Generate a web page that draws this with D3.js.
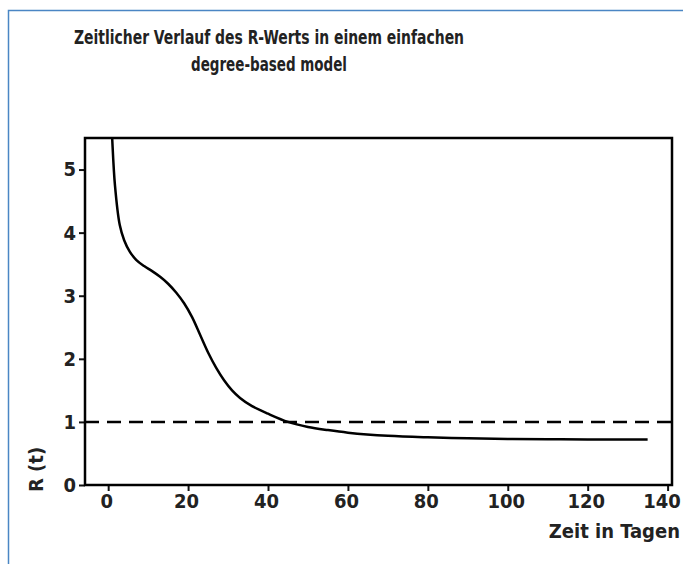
<!DOCTYPE html>
<html>
<head>
<meta charset="utf-8">
<script src="https://cdn.jsdelivr.net/npm/d3@7"></script>
<style>
  body { margin: 0; background: #fff; }
  text { font-family: "DejaVu Sans", sans-serif; font-stretch: condensed; font-weight: bold; fill: #222; }
</style>
</head>
<body>
<svg width="683" height="564"></svg>
<script>
// data
const days = [0.6, 1, 1.7, 2.9, 4, 5.4, 7, 9, 11, 13, 15, 17, 19, 21, 23, 25, 27, 29, 31, 33, 36, 40, 45, 50, 55, 60, 70, 80, 90, 100, 110, 120, 135];
const rValues = [6.1, 5.5, 4.75, 4.12, 3.88, 3.70, 3.57, 3.47, 3.39, 3.30, 3.19, 3.05, 2.88, 2.66, 2.38, 2.10, 1.86, 1.66, 1.50, 1.38, 1.25, 1.13, 1.00, 0.92, 0.87, 0.83, 0.78, 0.755, 0.74, 0.73, 0.725, 0.72, 0.72];
const xTicks = [0, 20, 40, 60, 80, 100, 120, 140];
const yTicks = [0, 1, 2, 3, 4, 5];
const threshold = 1;
const titleLines = ['Zeitlicher Verlauf des R-Werts in einem einfachen', 'degree-based model'];

const margin = { top: 138, right: 11, bottom: 79, left: 85 };
const width = 683 - margin.left - margin.right;
const height = 564 - margin.top - margin.bottom;

const svg = d3.select('svg');

// blue frame round the figure
svg.append('path')
  .attr('d', 'M8.5,564 L8.5,10.5 L683,10.5')
  .attr('fill', 'none')
  .attr('stroke', '#4a86c4')
  .attr('stroke-width', 1.5);

svg.selectAll('.title')
  .data(titleLines)
  .join('text')
  .attr('class', 'title')
  .attr('x', 269)
  .attr('y', (d, i) => 44 + i * 27)
  .attr('text-anchor', 'middle')
  .attr('textLength', (d, i) => i == 0 ? 390 : 156)
  .attr('lengthAdjust', 'spacingAndGlyphs')
  .style('font-size', '20px')
  .text(d => d);

const g = svg.append('g')
  .attr('transform', 'translate(' + margin.left + ',' + margin.top + ')');

const x = d3.scaleLinear().domain([-5.8, 141.1]).range([0, width]);
const y = d3.scaleLinear().domain([0, 5.5]).range([height, 0]);

g.append('clipPath').attr('id', 'clip')
  .append('rect').attr('width', width).attr('height', height);

// axes
const xAxis = g.append('g')
  .attr('transform', 'translate(0,' + height + ')')
  .call(d3.axisBottom(x).tickValues(xTicks).tickFormat(d3.format('d')).tickSize(6).tickPadding(3));
const yAxis = g.append('g')
  .call(d3.axisLeft(y).tickValues(yTicks).tickFormat(d3.format('d')).tickSize(6).tickPadding(3));

[xAxis, yAxis].forEach(a => {
  a.select('.domain').remove();
  a.selectAll('line').attr('stroke', '#111').attr('stroke-width', 2);
  a.selectAll('text').style('font-size', '20px').attr('fill', '#222');
});
// labels sit a little left of their ticks, last one kept inside the figure
xAxis.selectAll('text').attr('dx', (d, i) => i == xTicks.length - 1 ? -6 : -2);

// plot border
g.append('rect')
  .attr('width', width)
  .attr('height', height)
  .attr('fill', 'none')
  .attr('stroke', '#000')
  .attr('stroke-width', 2.5);

// R = 1 line
g.append('line')
  .attr('x1', 0).attr('x2', width)
  .attr('y1', y(threshold)).attr('y2', y(threshold))
  .attr('stroke', '#000')
  .attr('stroke-width', 2.5)
  .attr('stroke-dasharray', '14,8');

const line = d3.line()
  .x((d, i) => x(days[i]))
  .y(d => y(d))
  .curve(d3.curveCatmullRom.alpha(0.5));

g.append('path')
  .datum(rValues)
  .attr('clip-path', 'url(#clip)')
  .attr('fill', 'none')
  .attr('stroke', '#000')
  .attr('stroke-width', 2.5)
  .attr('d', line);

svg.append('text')
  .attr('x', 680)
  .attr('y', 538)
  .attr('text-anchor', 'end')
  .style('font-size', '20px')
  .text('Zeit in Tagen');

svg.append('text')
  .attr('transform', 'translate(43,492) rotate(-90)')
  .attr('text-anchor', 'start')
  .style('font-size', '20px')
  .text('R (t)');
</script>
</body>
</html>
